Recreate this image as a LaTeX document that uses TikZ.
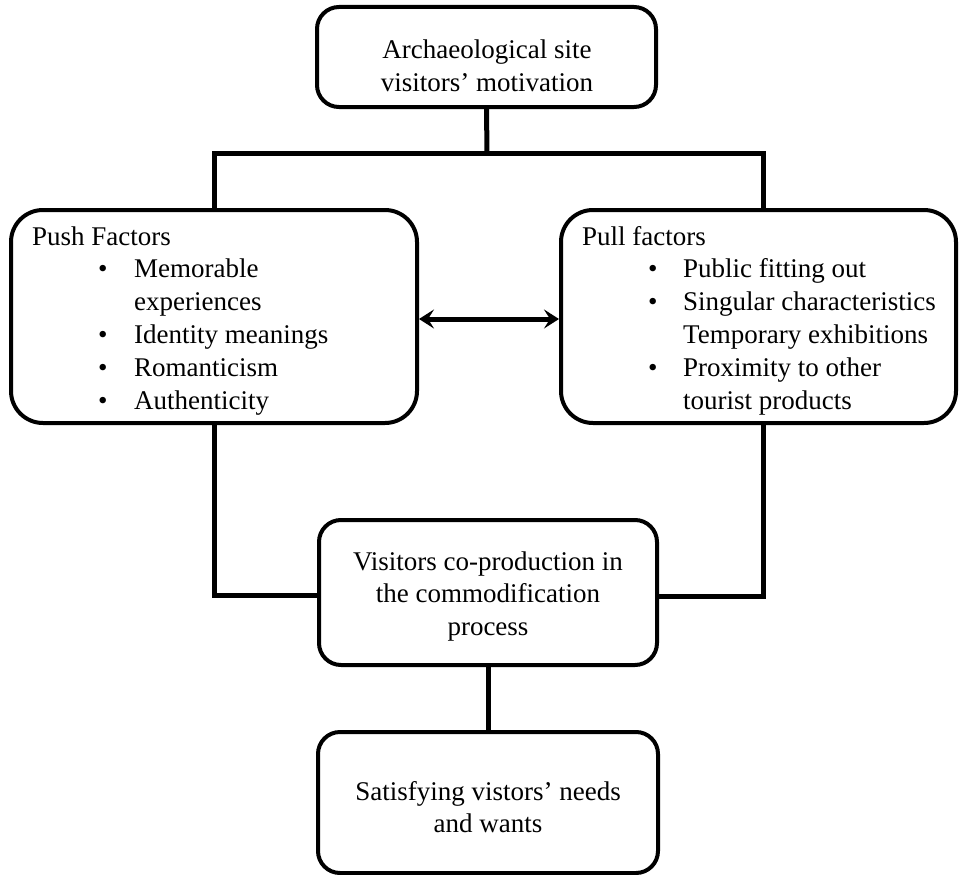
\documentclass[tikz,border=0pt]{standalone}
\usepackage{fontspec}
\setmainfont{Liberation Serif}
\usetikzlibrary{arrows.meta}
\newcommand\dfont{\fontsize{27}{32.8}\selectfont}
\tikzset{
  box/.style={draw=black, line width=4pt, rounded corners=22pt, inner sep=0pt, fill=white},
  bigbox/.style={box, rounded corners=32pt},
  conn/.style={draw=black, line width=5pt},
  txt/.style={inner sep=0pt, font=\dfont, anchor=base},
  ltxt/.style={inner sep=0pt, font=\dfont, anchor=base west},
}
\begin{document}
\begin{tikzpicture}[x=1pt,y=-1pt]
\fill[white] (0,0) rectangle (961,875);
\useasboundingbox (0,0) rectangle (961,875);
% boxes
\node[box, minimum width=339pt, minimum height=100pt] (top) at (486.5,57) {};
\node[bigbox, minimum width=406pt, minimum height=213pt] (left) at (214,316.5) {};
\node[bigbox, minimum width=395pt, minimum height=213pt] (right) at (758.5,316.5) {};
\node[box, minimum width=338pt, minimum height=145pt] (mid) at (488,592.5) {};
\node[box, minimum width=340pt, minimum height=141pt] (bot) at (488,802.5) {};
% texts
\node[txt] (topT) at (487,59) {\begin{tabular}[t]{@{}c@{}}Archaeological site\\visitors’ motivation\end{tabular}};
\node[ltxt] (leftT) at (32,245) {\begin{tabular}[t]{@{}l@{}}Push Factors\\
\hspace*{66pt}\makebox[36pt][l]{•}Memorable\\
\hspace*{102pt}experiences\\
\hspace*{66pt}\makebox[36pt][l]{•}Identity meanings\\
\hspace*{66pt}\makebox[36pt][l]{•}Romanticism\\
\hspace*{66pt}\makebox[36pt][l]{•}Authenticity\end{tabular}};
\node[ltxt] (rightT) at (582,245) {\begin{tabular}[t]{@{}l@{}}Pull factors\\
\hspace*{66pt}\makebox[35pt][l]{•}Public fitting out\\
\hspace*{66pt}\makebox[35pt][l]{•}Singular characteristics\\
\hspace*{101pt}Temporary exhibitions\\
\hspace*{66pt}\makebox[35pt][l]{•}Proximity to other\\
\hspace*{101pt}tourist products\end{tabular}};
\node[txt] (midT) at (488,570) {\begin{tabular}[t]{@{}c@{}}Visitors co-production in\\the commodification\\process\end{tabular}};
\node[txt] (botT) at (488,800) {\begin{tabular}[t]{@{}c@{}}Satisfying vistors’ needs\\and wants\end{tabular}};
% connectors
\coordinate (j1) at (487,153);
\draw[conn] (top.south) -- (j1);
\draw[conn] (j1) -| (left.north);
\draw[conn] (j1) -| ([xshift=4.5pt]right.north);
\draw[conn] (left.south) |- ([yshift=-2.5pt]mid.west);
\draw[conn] ([xshift=4.5pt]right.south) |- ([yshift=-4pt]mid.east);
\draw[conn] (mid.south) -- (bot.north);
\draw[conn, {Stealth[length=15pt,width=19pt,inset=6pt]}-{Stealth[length=15pt,width=19pt,inset=6pt]}] ([yshift=-2.5pt]left.east) -- ([yshift=-2.5pt]right.west);
\end{tikzpicture}
\end{document}
